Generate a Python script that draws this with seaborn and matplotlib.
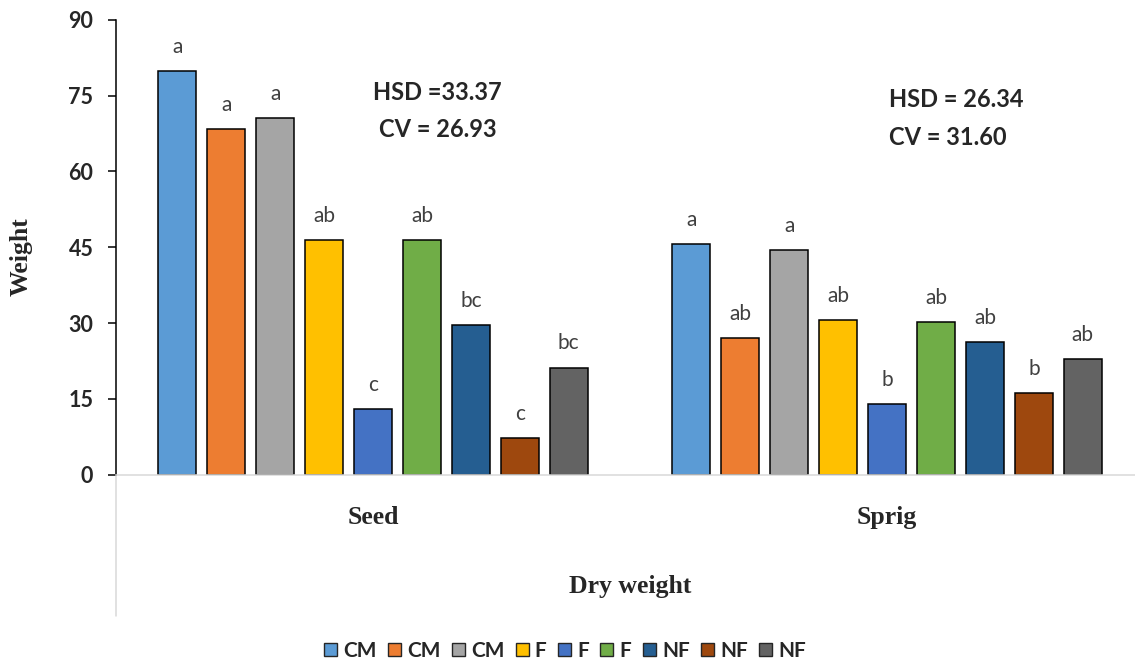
import numpy as np
import pandas as pd
import matplotlib
matplotlib.use("Agg")
import matplotlib.pyplot as plt
import seaborn as sns
from matplotlib.patches import Patch

# data
groups = ["Seed", "Sprig"]
treatments = ["CM", "CM", "CM", "F", "F", "F", "NF", "NF", "NF"]
treatment_ids = ["T1", "T2", "T3", "T4", "T5", "T6", "T7", "T8", "T9"]
seed = [79.8, 68.3, 70.6, 46.5, 12.9, 46.5, 29.6, 7.3, 21.2]
sprig = [45.6, 27.0, 44.5, 30.6, 13.9, 30.2, 26.2, 16.2, 22.8]
seed_letters = ["a", "a", "a", "ab", "c", "ab", "bc", "c", "bc"]
sprig_letters = ["a", "ab", "a", "ab", "b", "ab", "ab", "b", "ab"]
colors = ["#5B9BD5", "#ED7D31", "#A5A5A5", "#FFC000", "#4472C4",
          "#70AD47", "#255E91", "#9E480E", "#636363"]

sns.set_style("ticks")
plt.rcParams['font.family'] = ['Lato', 'DejaVu Sans']

df = pd.DataFrame({
    "group": np.repeat(groups, len(treatment_ids)),
    "trt": treatment_ids * 2,
    "weight": seed + sprig,
})

fig = plt.figure(figsize=(11.35, 6.65), dpi=100)
ax = fig.add_axes([116 / 1135, 1 - 474.7 / 665, 1028 / 1135, 455 / 665])

sns.barplot(data=df, x="group", y="weight", hue="trt", order=groups,
            hue_order=treatment_ids, palette=colors, saturation=1,
            width=0.857, gap=0.215, edgecolor="black", linewidth=1.1,
            errorbar=None, legend=False, ax=ax)

ax.set_ylim(0, 90)
ax.set_xlim(-0.5, 1.5)
ax.set_yticks(range(0, 91, 15))
sns.despine(ax=ax)
ax.spines['left'].set_color('black')
ax.spines['left'].set_linewidth(1.1)
ax.spines['bottom'].set_color('#d9d9d9')
ax.spines['bottom'].set_linewidth(1.1)
ax.plot([0, 0], [0, -0.3105], transform=ax.transAxes, color='#d9d9d9',
        lw=1.1, clip_on=False)

ax.tick_params(axis='y', length=5.8, width=1.1, pad=10.5, labelsize=15.5, color='black')
for lab in ax.get_yticklabels():
    lab.set_fontweight('bold')
ax.tick_params(axis='x', length=0, pad=22.8)
for lab in ax.get_xticklabels():
    lab.set_fontfamily('Liberation Serif')
    lab.set_fontweight('bold')
    lab.set_fontsize(18.5)

# significance letters
bars = sorted(ax.patches, key=lambda p: p.get_x())
letters = seed_letters + sprig_letters
for p, let in zip(bars, letters):
    ax.annotate(let, (p.get_x() + p.get_width() / 2, p.get_height()),
                xytext=(0, 13), textcoords='offset points', ha='center',
                va='baseline', fontsize=15, color='#404040')

ax.text(0.1256, 74.1, "HSD =33.37", ha='center', va='baseline', fontsize=17, fontweight='bold')
ax.text(0.1256, 66.8, "CV = 26.93", ha='center', va='baseline', fontsize=17, fontweight='bold')
ax.text(1.004, 72.7, "HSD = 26.34", ha='left', va='baseline', fontsize=17, fontweight='bold')
ax.text(1.004, 65.2, "CV = 31.60", ha='left', va='baseline', fontsize=17, fontweight='bold')

ax.set_ylabel("Weight", fontfamily='Liberation Serif', fontweight='bold', fontsize=18.5)
ax.yaxis.set_label_coords(-0.0807, 0.479)
ax.set_xlabel("Dry weight", fontfamily='Liberation Serif', fontweight='bold', fontsize=18.5)
ax.xaxis.set_label_coords(0.5, -0.26)
ax.xaxis.label.set_va('baseline')

handles = [Patch(facecolor=c, edgecolor='#262626', linewidth=1.0) for c in colors]
fig.legend(handles, treatments, loc='center', bbox_to_anchor=(0.4978, 1 - 651 / 665),
           ncol=9, frameon=False, prop={'weight': 'bold', 'size': 15},
           handlelength=0.62, handleheight=0.62, handletextpad=0.3, columnspacing=0.55)

fig.savefig('out.png', dpi=100)
